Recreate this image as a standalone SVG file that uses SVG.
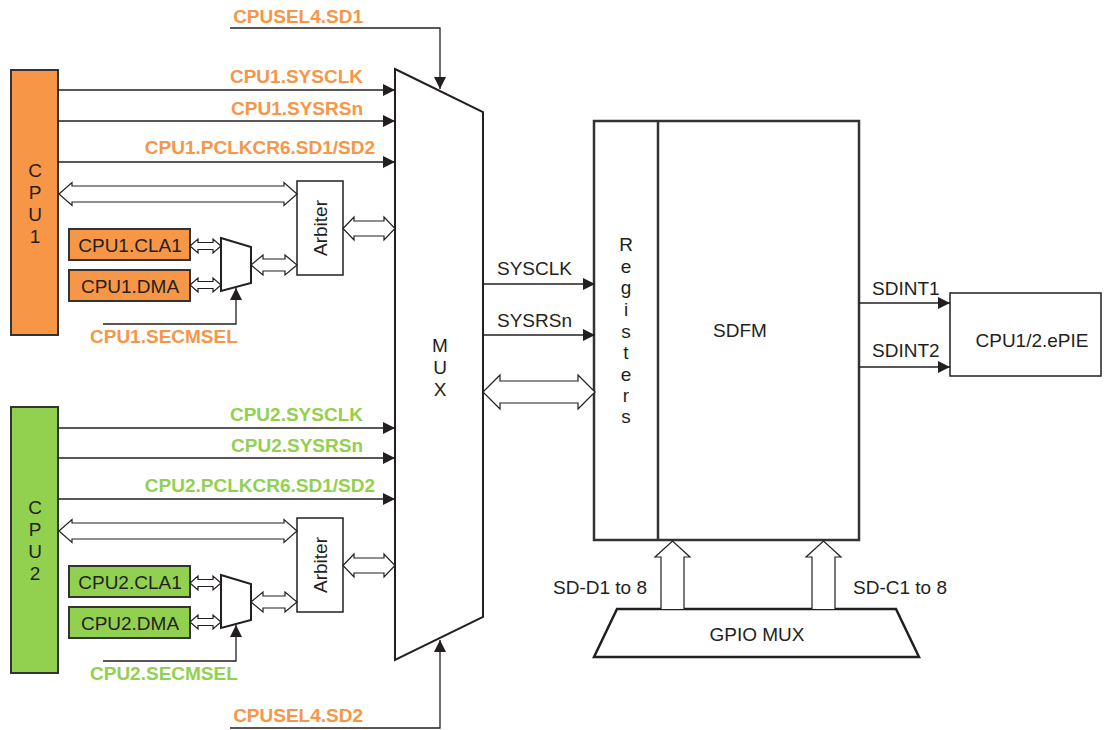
<svg xmlns="http://www.w3.org/2000/svg" width="1104" height="730" viewBox="0 0 1104 730">
<style>
text{font-family:"Liberation Sans",Arial,sans-serif;font-size:19px;fill:#231F20}
.b{font-weight:bold}
.o{fill:#F79646}
.g{fill:#92D050}
.m{text-anchor:middle}
.e{text-anchor:end}
.ln{fill:none;stroke:#231F20;stroke-width:1.3}
.sig{fill:none;stroke:#231F20;stroke-width:1.3;marker-end:url(#ah)}
.bus{fill:#fff;stroke:#231F20;stroke-width:1.2}
.blk{fill:#fff;stroke:#231F20;stroke-width:2}
</style>
<defs>
<marker id="ah" viewBox="0 0 12 12" refX="12" refY="6" markerWidth="12" markerHeight="12" markerUnits="userSpaceOnUse" orient="auto">
<path d="M0,0 L12,6 L0,12 Z" fill="#231F20"/>
</marker>
</defs>
<rect width="1104" height="730" fill="#fff"/>

<g id="cpu1">
<rect x="11" y="70" width="47" height="265" fill="#F79646" stroke="#333" stroke-width="2"/>
<text class="m" x="35" y="177">C</text><text class="m" x="35" y="199">P</text><text class="m" x="35" y="221">U</text><text class="m" x="35" y="243">1</text>
</g>
<g id="cpu1-cla1"><rect x="69" y="229" width="121" height="31" fill="#F79646" stroke="#333" stroke-width="2"/><text class="m" x="130" y="252">CPU1.CLA1</text></g>
<g id="cpu1-dma"><rect x="69" y="270" width="121" height="31" fill="#F79646" stroke="#333" stroke-width="2"/><text class="m" x="130" y="293">CPU1.DMA</text></g>
<g id="cpu1-secmux"><polygon points="221,238 251,247 251,283 221,291" class="blk"/></g>
<g id="cpu1-arbiter"><rect x="297" y="181" width="46" height="94" fill="#fff" stroke="#231F20" stroke-width="1.5"/><text class="m" transform="translate(327,228) rotate(-90)">Arbiter</text></g>

<g id="cpu2">
<rect x="11" y="407" width="47" height="266" fill="#92D050" stroke="#333" stroke-width="2"/>
<text class="m" x="35" y="514">C</text><text class="m" x="35" y="536">P</text><text class="m" x="35" y="558">U</text><text class="m" x="35" y="580">2</text>
</g>
<g id="cpu2-cla1"><rect x="69" y="566" width="121" height="31" fill="#92D050" stroke="#333" stroke-width="2"/><text class="m" x="130" y="589">CPU2.CLA1</text></g>
<g id="cpu2-dma"><rect x="69" y="607" width="121" height="31" fill="#92D050" stroke="#333" stroke-width="2"/><text class="m" x="130" y="630">CPU2.DMA</text></g>
<g id="cpu2-secmux"><polygon points="221,575 251,584 251,620 221,628" class="blk"/></g>
<g id="cpu2-arbiter"><rect x="297" y="518" width="46" height="94" fill="#fff" stroke="#231F20" stroke-width="1.5"/><text class="m" transform="translate(327,565) rotate(-90)">Arbiter</text></g>

<g id="mux">
<polygon points="395,69 483,112 483,617 395,660" class="blk"/>
<text class="m" x="440" y="352">M</text><text class="m" x="440" y="374">U</text><text class="m" x="440" y="396">X</text>
</g>

<g id="sdfm">
<rect x="594" y="121" width="265" height="419" fill="#fff" stroke="#333" stroke-width="2.5"/>
<line x1="658" y1="121" x2="658" y2="540" stroke="#333" stroke-width="2.5"/>
<g class="m">
<text class="m" x="626" y="251">R</text><text class="m" x="626" y="273">e</text><text class="m" x="626" y="294">g</text><text class="m" x="626" y="316">i</text><text class="m" x="626" y="338">s</text><text class="m" x="626" y="359">t</text><text class="m" x="626" y="381">e</text><text class="m" x="626" y="402">r</text><text class="m" x="626" y="423">s</text>
</g>
<text class="m" x="740" y="337">SDFM</text>
</g>

<g id="epie">
<rect x="950" y="293" width="151" height="83" fill="#fff" stroke="#231F20" stroke-width="1.5"/>
<text class="m" x="1032" y="347">CPU1/2.ePIE</text>
</g>

<g id="gpiomux">
<polygon points="617,609 896,609 919,657 594,657" fill="#fff" stroke="#231F20" stroke-width="2.5"/>
<text class="m" x="757" y="641">GPIO MUX</text>
</g>

<g id="connectors">
<!-- CPU1 signals -->
<polyline class="sig" points="230,28 440,28 440,89"/>
<line class="sig" x1="58" y1="90" x2="395" y2="90"/>
<line class="sig" x1="58" y1="121" x2="395" y2="121"/>
<line class="sig" x1="58" y1="162" x2="395" y2="162"/>
<path class="bus" d="M59,194 L72,182.5 L72,186 L284,186 L284,182.5 L297,194 L284,205.5 L284,202 L72,202 L72,205.5 Z"/>
<path class="bus" d="M343,228.5 L354,217 L354,221 L384,221 L384,217 L395,228.5 L384,240 L384,236 L354,236 L354,240 Z"/>
<path class="bus" d="M190,246 L198,239 L198,242.5 L213,242.5 L213,239 L221,246 L213,253 L213,249.5 L198,249.5 L198,253 Z"/>
<path class="bus" d="M190,285 L198,278 L198,281.5 L213,281.5 L213,278 L221,285 L213,292 L213,288.5 L198,288.5 L198,292 Z"/>
<path class="bus" d="M251,265 L263,255 L263,259 L285,259 L285,255 L297,265 L285,275 L285,271 L263,271 L263,275 Z"/>
<polyline class="sig" points="103,324 236,324 236,288"/>
<!-- CPU2 signals -->
<line class="sig" x1="58" y1="428" x2="395" y2="428"/>
<line class="sig" x1="58" y1="458" x2="395" y2="458"/>
<line class="sig" x1="58" y1="499" x2="395" y2="499"/>
<path class="bus" d="M59,531 L72,519.5 L72,523 L284,523 L284,519.5 L297,531 L284,542.5 L284,539 L72,539 L72,542.5 Z"/>
<path class="bus" d="M343,565.5 L354,554 L354,558 L384,558 L384,554 L395,565.5 L384,577 L384,573 L354,573 L354,577 Z"/>
<path class="bus" d="M190,583 L198,576 L198,579.5 L213,579.5 L213,576 L221,583 L213,590 L213,586.5 L198,586.5 L198,590 Z"/>
<path class="bus" d="M190,622 L198,615 L198,618.5 L213,618.5 L213,615 L221,622 L213,629 L213,625.5 L198,625.5 L198,629 Z"/>
<path class="bus" d="M251,602 L263,592 L263,596 L285,596 L285,592 L297,602 L285,612 L285,608 L263,608 L263,612 Z"/>
<polyline class="sig" points="103,661 236,661 236,625"/>
<polyline class="sig" points="230,728 440,728 440,640"/>
<!-- MUX to SDFM -->
<line class="sig" x1="483" y1="284" x2="595" y2="284"/>
<line class="sig" x1="483" y1="335" x2="595" y2="335"/>
<path class="bus" d="M483,392 L500,375 L500,381 L578,381 L578,375 L595,392 L578,409 L578,403 L500,403 L500,409 Z"/>
<!-- SDFM to ePIE -->
<line class="sig" x1="859" y1="303" x2="950" y2="303"/>
<line class="sig" x1="859" y1="367" x2="950" y2="367"/>
<!-- GPIO to SDFM -->
<path class="bus" d="M661,609 L661,557 L655,557 L672.5,541 L690,557 L684,557 L684,609"/>
<path class="bus" d="M812,609 L812,557 L806,557 L823.5,541 L841,557 L835,557 L835,609"/>
</g>

<g id="labels">
<text class="b o e" x="363" y="23">CPUSEL4.SD1</text>
<text class="b o e" x="363" y="83">CPU1.SYSCLK</text>
<text class="b o e" x="363" y="115">CPU1.SYSRSn</text>
<text class="b o e" x="375" y="154">CPU1.PCLKCR6.SD1/SD2</text>
<text class="b o" x="90" y="343">CPU1.SECMSEL</text>
<text class="b g e" x="363" y="421">CPU2.SYSCLK</text>
<text class="b g e" x="363" y="452">CPU2.SYSRSn</text>
<text class="b g e" x="375" y="492">CPU2.PCLKCR6.SD1/SD2</text>
<text class="b g" x="90" y="680">CPU2.SECMSEL</text>
<text class="b o e" x="363" y="722">CPUSEL4.SD2</text>
<text x="497" y="275">SYSCLK</text>
<text x="497" y="327">SYSRSn</text>
<text x="872" y="295">SDINT1</text>
<text x="872" y="357">SDINT2</text>
<text x="553" y="594">SD-D1 to 8</text>
<text x="853" y="594">SD-C1 to 8</text>
</g>
</svg>
